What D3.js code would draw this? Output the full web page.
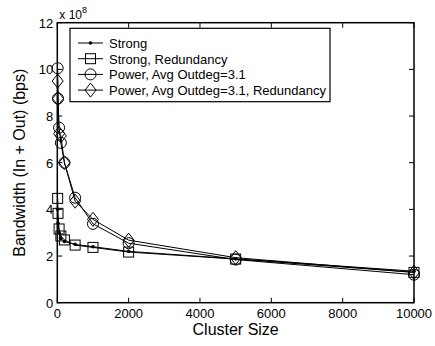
<!DOCTYPE html>
<html><head><meta charset="utf-8">
<script src="https://cdn.jsdelivr.net/npm/d3@7"></script>
<style>body{margin:0;background:#fff}svg{display:block}text{font-family:"Liberation Sans",Arial,sans-serif}</style>
</head><body>
<svg id="c" width="435" height="346"></svg>
<script>
const clusterSizes = [10, 20, 50, 100, 200, 500, 1000, 2000, 5000, 10000];
const strong = [4.0, 3.4, 3.0, 2.75, 2.62, 2.5, 2.4, 2.2, 1.88, 1.35];
const strongRed = [4.47, 3.83, 3.16, 2.86, 2.69, 2.47, 2.37, 2.17, 1.87, 1.30];
const power = [10.05, 8.75, 7.5, 6.85, 6.0, 4.5, 3.38, 2.55, 1.85, 1.2];
const powerRed = [9.5, 8.75, 7.25, 7.15, 6.0, 4.35, 3.57, 2.68, 1.93, 1.3];
const seriesNames = ["Strong", "Strong, Redundancy", "Power, Avg Outdeg=3.1", "Power, Avg Outdeg=3.1, Redundancy"];
const markers = ["dot", "square", "circle", "diamond"];
const xTicks = [0, 2000, 4000, 6000, 8000, 10000];
const yTicks = [0, 2, 4, 6, 8, 10, 12];

const svg = d3.select("#c");
const L = 57.3, R = 414, T = 22.7, B = 302.7;
const x = d3.scaleLinear().domain([0, 10000]).range([L, R]);
const y = d3.scaleLinear().domain([0, 12]).range([B, T]);

const series = [strong, strongRed, power, powerRed];

// axes
const tl = 5;
const ax = svg.append("g").attr("stroke", "#000").attr("stroke-width", 1);
ax.append("rect").attr("x", L).attr("y", T).attr("width", R - L).attr("height", B - T).attr("fill", "none").attr("stroke-width", 1.5);
xTicks.forEach(t => {
  ax.append("line").attr("x1", x(t)).attr("x2", x(t)).attr("y1", B).attr("y2", B - tl);
  ax.append("line").attr("x1", x(t)).attr("x2", x(t)).attr("y1", T).attr("y2", T + tl);
});
yTicks.forEach(t => {
  ax.append("line").attr("x1", L).attr("x2", L + tl).attr("y1", y(t)).attr("y2", y(t));
  ax.append("line").attr("x1", R).attr("x2", R - tl).attr("y1", y(t)).attr("y2", y(t));
});
svg.append("g").selectAll("text").data(xTicks).join("text")
  .attr("x", d => x(d)).attr("y", B + 15).attr("text-anchor", "middle")
  .attr("font-size", 13).text(d => d);
svg.append("g").selectAll("text").data(yTicks).join("text")
  .attr("x", L - 4).attr("y", d => y(d) + 5).attr("text-anchor", "end")
  .attr("font-size", 13).text(d => d);
const ex = svg.append("text").attr("x", L + 2).attr("y", 19).attr("font-size", 12);
ex.append("tspan").text("x 10");
ex.append("tspan").attr("dy", -6).attr("font-size", 9).text("8");

svg.append("text").attr("x", (L + R) / 2).attr("y", 335).attr("text-anchor", "middle").attr("font-size", 16).text("Cluster Size");
svg.append("text").attr("transform", `translate(25,${(T + B) / 2}) rotate(-90)`).attr("text-anchor", "middle").attr("font-size", 16).text("Bandwidth (In + Out) (bps)");

function drawMarker(g, type, cx, cy) {
  if (type === "dot") g.append("circle").attr("cx", cx).attr("cy", cy).attr("r", 1.8).attr("fill", "#000");
  else if (type === "square") g.append("rect").attr("x", cx - 5).attr("y", cy - 5).attr("width", 10).attr("height", 10).attr("fill", "none").attr("stroke", "#000");
  else if (type === "circle") g.append("circle").attr("cx", cx).attr("cy", cy).attr("r", 5.5).attr("fill", "none").attr("stroke", "#000");
  else g.append("path").attr("d", `M${cx},${cy - 7}L${cx + 5.5},${cy}L${cx},${cy + 7}L${cx - 5.5},${cy}Z`).attr("fill", "none").attr("stroke", "#000");
}

const line = d3.line().x((d, i) => x(clusterSizes[i])).y(d => y(d));
series.forEach((s, k) => {
  const g = svg.append("g");
  g.append("path").attr("d", line(s)).attr("fill", "none").attr("stroke", "#000").attr("stroke-width", 1);
  s.forEach((v, i) => drawMarker(g, markers[k], x(clusterSizes[i]), y(v)));
});

// legend
const lg = svg.append("g");
lg.append("rect").attr("x", 70).attr("y", 28.3).attr("width", 260).attr("height", 73.4).attr("fill", "#fff").attr("stroke", "#000").attr("stroke-width", 1.2);
seriesNames.forEach((n, k) => {
  const yy = 43 + k * 15.7;
  lg.append("line").attr("x1", 78).attr("x2", 103).attr("y1", yy).attr("y2", yy).attr("stroke", "#000");
  drawMarker(lg, markers[k], 90.5, yy);
  lg.append("text").attr("x", 109).attr("y", yy + 5).attr("font-size", 13).text(n);
});
</script>
</body></html>
